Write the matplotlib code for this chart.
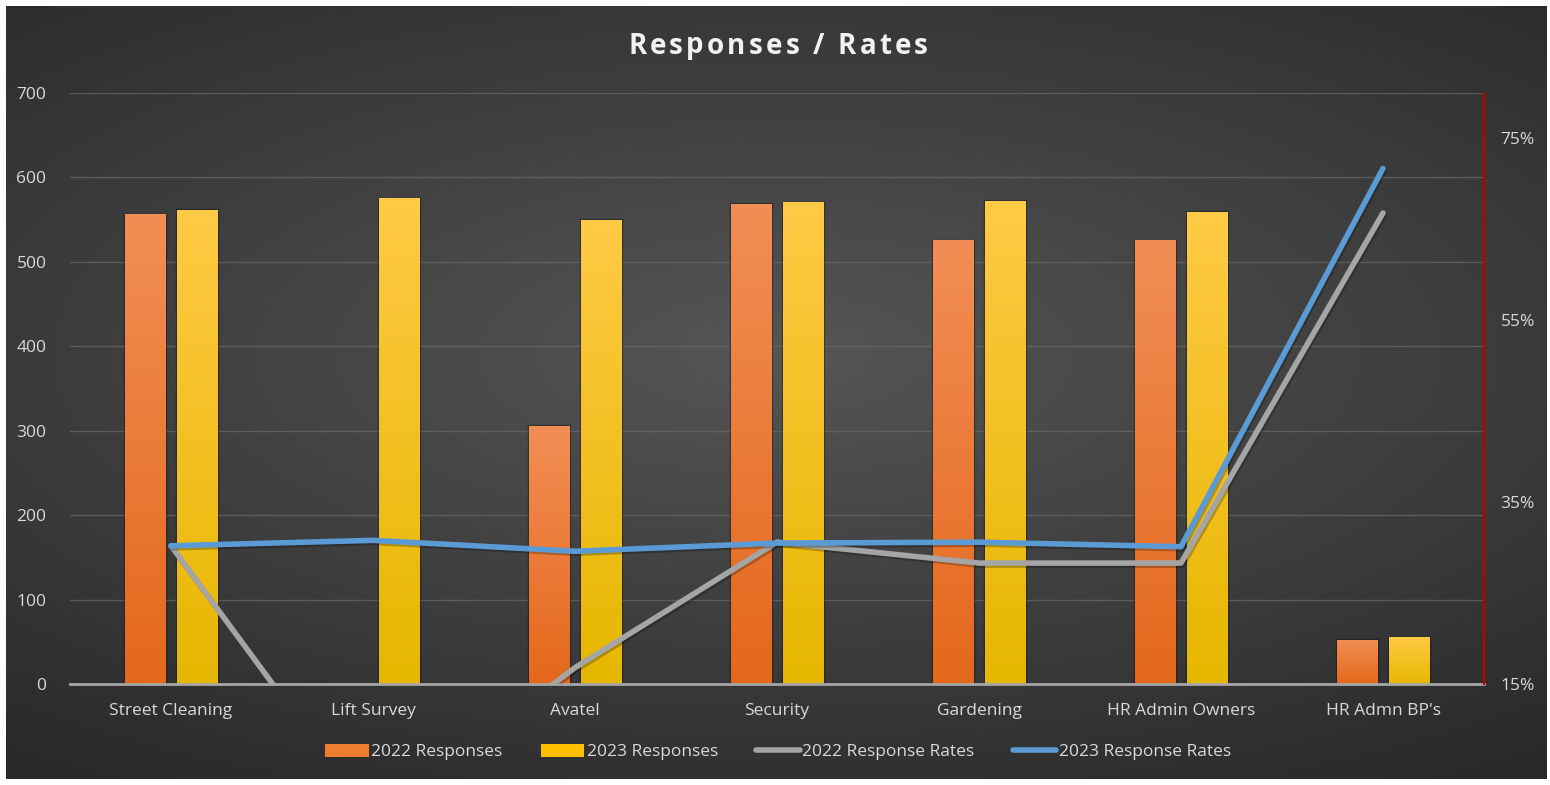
import matplotlib.pyplot as plt
import matplotlib.patheffects as pe
import matplotlib.colors as mcolors
import numpy as np
from matplotlib.ticker import FuncFormatter

categories = ["Street Cleaning", "Lift Survey", "Avatel", "Security",
              "Gardening", "HR Admin Owners", "HR Admn BP's"]
responses_2022 = [556, 0, 305, 568, 525, 525, 52]
responses_2023 = [561, 575, 549, 570, 572, 559, 55]
rates_2022 = [30.2, 0.0, 16.8, 30.6, 28.3, 28.3, 66.8]
rates_2023 = [30.2, 30.8, 29.6, 30.5, 30.6, 30.1, 71.7]

plt.rcParams['font.family'] = ['Open Sans', 'DejaVu Sans']
text_col = '#D9D9D9'

fig = plt.figure(figsize=(15.5, 7.85), dpi=100, facecolor='white')

# dark radial background panel
bg = fig.add_axes([6 / 1550, 6 / 785, 1541 / 1550, 773 / 785])
yy, xx = np.mgrid[-1:1:300j, -1:1:600j]
r = np.sqrt((xx * 0.85) ** 2 + ((yy + 0.1) * 1.05) ** 2)
v = np.clip(0.335 - 0.125 * r, 0.16, 1)
bg.imshow(np.dstack([v, v, v]), aspect='auto', extent=[0, 1, 0, 1],
          interpolation='bicubic')
bg.set_axis_off()

ax = fig.add_axes([70 / 1550, 101 / 785, 1414 / 1550, 591 / 785])
ax.set_facecolor('none')
x = np.arange(len(categories))
w = 0.2

bars_a = ax.bar(x - 0.13, responses_2022, w, color='#ED7D31',
                edgecolor=(0, 0, 0, 0.3), linewidth=2.5, zorder=2)
bars_b = ax.bar(x + 0.13, responses_2023, w, color='#FFC000',
                edgecolor=(0, 0, 0, 0.3), linewidth=2.5, zorder=2)


def fill_gradient(bars, top, bottom):
    c1 = np.array(mcolors.to_rgb(top))
    c2 = np.array(mcolors.to_rgb(bottom))
    t = np.linspace(0, 1, 100)[:, None]
    grad = (c1 * (1 - t) + c2 * t)[:, None, :].repeat(2, axis=1)
    for b in bars:
        h = b.get_height()
        if h <= 0:
            b.set_visible(False)
            continue
        x0 = b.get_x()
        ax.imshow(grad, extent=[x0, x0 + b.get_width(), 0, h],
                  aspect='auto', zorder=3, interpolation='bilinear')


fill_gradient(bars_a, '#F28E55', '#E4681C')
fill_gradient(bars_b, '#FFCA45', '#E6B700')

ax.set_xlim(-0.5, len(categories) - 0.5)
ax.set_ylim(0, 700)
ax.set_yticks(range(0, 701, 100))
ax.grid(axis='y', color='#6A6A6A', linewidth=1, alpha=0.7)
ax.set_axisbelow(True)
for s in ['top', 'right', 'left']:
    ax.spines[s].set_visible(False)
ax.spines['bottom'].set_color('#A6A6A6')
ax.spines['bottom'].set_linewidth(2)
ax.spines['bottom'].set_zorder(4)
ax.set_xticks(x)
ax.set_xticklabels(categories)
ax.tick_params(axis='both', length=0, colors=text_col, labelsize=12.5)
ax.tick_params(axis='x', pad=14)
ax.tick_params(axis='y', pad=17)

ax2 = ax.twinx()
shadow = [pe.SimpleLineShadow(offset=(1, -1.5), shadow_color='black', alpha=0.25),
          pe.Normal()]
l1, = ax2.plot(x, rates_2022, color='#A5A5A5', linewidth=4,
               solid_capstyle='round', solid_joinstyle='round', path_effects=shadow)
l2, = ax2.plot(x, rates_2023, color='#5B9BD5', linewidth=4,
               solid_capstyle='round', solid_joinstyle='round', path_effects=shadow)
ax2.set_ylim(15, 80)
ax2.set_yticks([15, 35, 55, 75])
ax2.yaxis.set_major_formatter(FuncFormatter(lambda v, p: f"{v:.0f}%"))
ax2.tick_params(axis='y', length=0, colors=text_col, labelsize=12.5, pad=12)
for s in ['top', 'left', 'bottom']:
    ax2.spines[s].set_visible(False)
ax2.spines['right'].set_color('#C00000')
ax2.spines['right'].set_linewidth(1.5)

# title with extra letter spacing
title = "Responses / Rates"
renderer = fig.canvas.get_renderer()
tracking = 3.2
widths = []
for ch in title:
    t = fig.text(0, 0, ch if ch != ' ' else 'a a', fontsize=20, fontweight='bold')
    bb = t.get_window_extent(renderer)
    if ch == ' ':
        t2 = fig.text(0, 0, 'aa', fontsize=20, fontweight='bold')
        widths.append(bb.width - t2.get_window_extent(renderer).width)
        t2.remove()
    else:
        widths.append(bb.width)
    t.remove()
total = sum(widths) + tracking * (len(title) - 1)
xpos = 778 - total / 2
for ch, cw in zip(title, widths):
    fig.text(xpos / 1550, 1 - 46 / 785, ch, fontsize=20, fontweight='bold',
             color='#F2F2F2', ha='left', va='center')
    xpos += cw + tracking

leg = fig.legend([bars_a, bars_b, l1, l2],
                 ["2022 Responses", "2023 Responses",
                  "2022 Response Rates", "2023 Response Rates"],
                 loc='center', bbox_to_anchor=(0.502, 0.042), ncol=4,
                 frameon=False, fontsize=12.5, labelcolor=text_col,
                 handlelength=2.5, handleheight=0.8, handletextpad=0.15,
                 columnspacing=2.2)
for h in leg.legend_handles[:2]:
    h.set_edgecolor('none')
    h.set_visible(True)
for h in leg.legend_handles[2:]:
    h.set_path_effects([])

fig.savefig('out.png', dpi=100, facecolor='white')
